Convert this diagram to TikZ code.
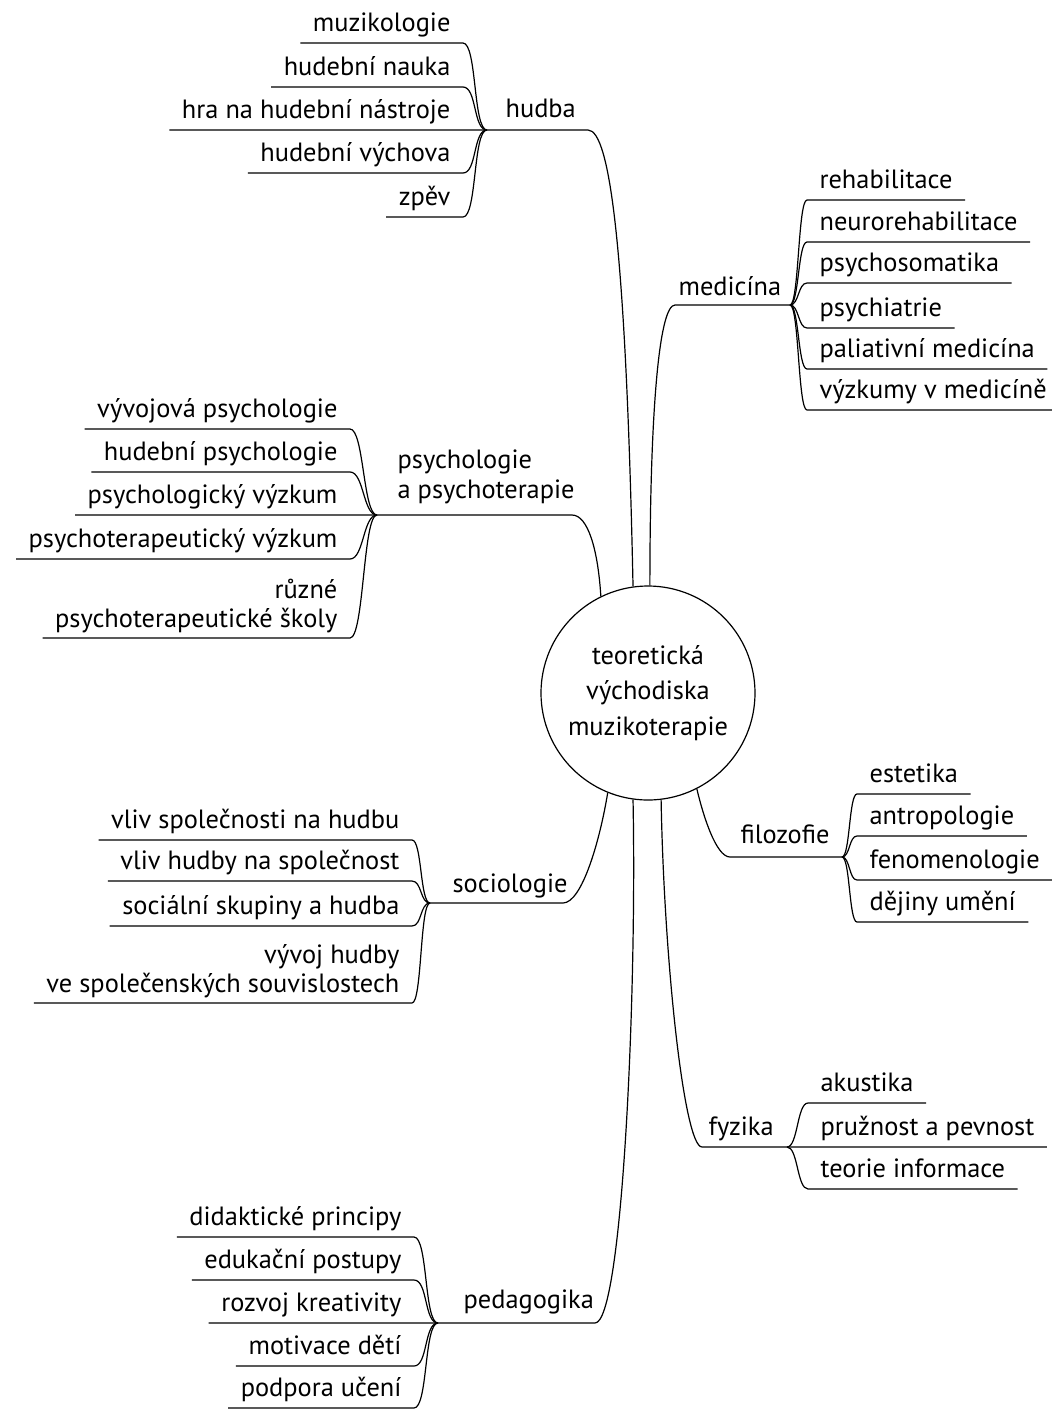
\documentclass[tikz,border=0pt]{standalone}
\usepackage{fontspec}
\setmainfont{PT Sans}

\begin{document}
\begin{tikzpicture}[x=0.5pt, y=-0.5pt, line width=0.6pt,
  font=\fontsize{13.2pt}{14.6pt}\selectfont,
  core/.style={draw, circle, minimum size=107pt, inner sep=0pt, align=center,
    font=\fontsize{13.2pt}{17.8pt}\selectfont},
  topic/.style={anchor=base west, align=left, inner sep=0pt},
  leaf/.style={inner xsep=6pt, inner ysep=2.3pt, text depth=3.2pt},
  leaves/.style={inner xsep=6pt, inner ysep=2.3pt},
  lt/.style={anchor=south east, align=right},
  rt/.style={anchor=south west, align=left}]

\useasboundingbox (0,0) rectangle (1051,1420);

% =================================================================================
% CENTRE
% =================================================================================
\node[core] (core) at (648,693) {teoretická\\východiska\\muzikoterapie};

% =================================================================================
% HUDBA (top left)
% =================================================================================
\coordinate (hu) at (487,130);
\node[topic] (hudba) at (505,117) {hudba};

\node[leaf, lt] (hu1) at (463,43)  {muzikologie};
\node[leaf, lt] (hu2) at (463,87)  {hudební nauka};
\node[leaf, lt] (hu3) at (463,130) {hra na hudební nástroje};
\node[leaf, lt] (hu4) at (463,173) {hudební výchova};
\node[leaf, lt] (hu5) at (463,217) {zpěv};

\draw (hu) .. controls +(-14,0) and +(14,0) .. (hu1.south east) -- (hu1.south west);
\draw (hu) .. controls +(-14,0) and +(14,0) .. (hu2.south east) -- (hu2.south west);
\draw (hu) .. controls +(-14,0) and +(14,0) .. (hu4.south east) -- (hu4.south west);
\draw (hu) .. controls +(-14,0) and +(14,0) .. (hu5.south east) -- (hu5.south west);

\draw (hu3.south west) -- (hu) -- (588,130) .. controls (610,130) and (626,250) .. (core.98);

% =================================================================================
% MEDICINA (top right)
% =================================================================================
\coordinate (me) at (790,305);
\node[topic] (medicina) at (678,295) {medicína};

\node[leaf, rt] (me1) at (807,200) {rehabilitace};
\node[leaf, rt] (me2) at (807,242) {neurorehabilitace};
\node[leaf, rt] (me3) at (807,283) {psychosomatika};
\node[leaf, rt] (me4) at (807,328) {psychiatrie};
\node[leaf, rt] (me5) at (807,369) {paliativní medicína};
\node[leaf, rt] (me6) at (807,410) {výzkumy v medicíně};

\draw (me) .. controls +(9,0) and +(-9,0) .. (me1.south west) -- (me1.south east);
\draw (me) .. controls +(9,0) and +(-9,0) .. (me2.south west) -- (me2.south east);
\draw (me) .. controls +(9,0) and +(-9,0) .. (me3.south west) -- (me3.south east);
\draw (me) .. controls +(9,0) and +(-9,0) .. (me4.south west) -- (me4.south east);
\draw (me) .. controls +(9,0) and +(-9,0) .. (me5.south west) -- (me5.south east);
\draw (me) .. controls +(9,0) and +(-9,0) .. (me6.south west) -- (me6.south east);

\draw (me) -- (675,305) .. controls (660,305) and (650,400) .. (core.89);

% =================================================================================
% PSYCHOLOGIE A PSYCHOTERAPIE (left)
% =================================================================================
\coordinate (ps) at (377,515);
\node[topic] (psych) at (397,498) {psychologie\\a psychoterapie};

\node[leaf, lt]   (ps1) at (350,429) {vývojová psychologie};
\node[leaf, lt]   (ps2) at (350,472) {hudební psychologie};
\node[leaf, lt]   (ps3) at (350,515) {psychologický výzkum};
\node[leaf, lt]   (ps4) at (350,559) {psychoterapeutický výzkum};
\node[leaves, lt] (ps5) at (350,638) {různé\\psychoterapeutické školy};

\draw (ps) .. controls +(-14,0) and +(14,0) .. (ps1.south east) -- (ps1.south west);
\draw (ps) .. controls +(-14,0) and +(14,0) .. (ps2.south east) -- (ps2.south west);
\draw (ps) .. controls +(-14,0) and +(14,0) .. (ps4.south east) -- (ps4.south west);
\draw (ps) .. controls +(-14,0) and +(14,0) .. (ps5.south east) -- (ps5.south west);

\draw (ps3.south west) -- (ps) -- (572,515) .. controls (588,515) and (598,550) .. (core.116);

% =================================================================================
% FILOZOFIE (right)
% =================================================================================
\coordinate (fi) at (842,857);
\node[topic] (filoz) at (740,843) {filozofie};

\node[leaf, rt] (fi1) at (857,794) {estetika};
\node[leaf, rt] (fi2) at (857,836) {antropologie};
\node[leaf, rt] (fi3) at (857,880) {fenomenologie};
\node[leaf, rt] (fi4) at (857,922) {dějiny umění};

\draw (fi) .. controls +(8,0) and +(-8,0) .. (fi1.south west) -- (fi1.south east);
\draw (fi) .. controls +(8,0) and +(-8,0) .. (fi2.south west) -- (fi2.south east);
\draw (fi) .. controls +(8,0) and +(-8,0) .. (fi3.south west) -- (fi3.south east);
\draw (fi) .. controls +(8,0) and +(-8,0) .. (fi4.south west) -- (fi4.south east);

\draw (fi) -- (730,857) .. controls (716,857) and (703,815) .. (core.297);

% =================================================================================
% SOCIOLOGIE (lower left)
% =================================================================================
\coordinate (so) at (430,903);
\node[topic] (socio) at (452,892) {sociologie};

\node[leaf, lt]   (so1) at (412,840)  {vliv společnosti na hudbu};
\node[leaf, lt]   (so2) at (412,881)  {vliv hudby na společnost};
\node[leaf, lt]   (so3) at (412,926)  {sociální skupiny a hudba};
\node[leaves, lt] (so4) at (412,1003) {vývoj hudby\\ve společenských souvislostech};

\draw (so) .. controls +(-10,0) and +(10,0) .. (so1.south east) -- (so1.south west);
\draw (so) .. controls +(-10,0) and +(10,0) .. (so2.south east) -- (so2.south west);
\draw (so) .. controls +(-10,0) and +(10,0) .. (so3.south east) -- (so3.south west);
\draw (so) .. controls +(-10,0) and +(10,0) .. (so4.south east) -- (so4.south west);

\draw (so) -- (563,903) .. controls (582,903) and (600,840) .. (core.248);

% =================================================================================
% FYZIKA (lower right)
% =================================================================================
\coordinate (fy) at (787,1147);
\node[topic] (fyz) at (708,1135) {fyzika};

\node[leaf, rt] (fy1) at (808,1103) {akustika};
\node[leaf, rt] (fy2) at (808,1147) {pružnost a pevnost};
\node[leaf, rt] (fy3) at (808,1189) {teorie informace};

\draw (fy) .. controls +(11,0) and +(-11,0) .. (fy1.south west) -- (fy1.south east);
\draw (fy) .. controls +(11,0) and +(-11,0) .. (fy3.south west) -- (fy3.south east);

\draw (fy2.south east) -- (fy) -- (702,1147) .. controls (684,1147) and (664,960) .. (core.277);

% =================================================================================
% PEDAGOGIKA (bottom left)
% =================================================================================
\coordinate (pe) at (438,1323);
\node[topic] (pedag) at (463,1308) {pedagogika};

\node[leaf, lt] (pe1) at (414,1237) {didaktické principy};
\node[leaf, lt] (pe2) at (414,1280) {edukační postupy};
\node[leaf, lt] (pe3) at (414,1323) {rozvoj kreativity};
\node[leaf, lt] (pe4) at (414,1366) {motivace dětí};
\node[leaf, lt] (pe5) at (414,1408) {podpora učení};

\draw (pe) .. controls +(-14,0) and +(14,0) .. (pe1.south east) -- (pe1.south west);
\draw (pe) .. controls +(-14,0) and +(14,0) .. (pe2.south east) -- (pe2.south west);
\draw (pe) .. controls +(-14,0) and +(14,0) .. (pe4.south east) -- (pe4.south west);
\draw (pe) .. controls +(-14,0) and +(14,0) .. (pe5.south east) -- (pe5.south west);

\draw (pe3.south west) -- (pe) -- (595,1323) .. controls (622,1323) and (637,1000) .. (core.262);

\end{tikzpicture}
\end{document}
